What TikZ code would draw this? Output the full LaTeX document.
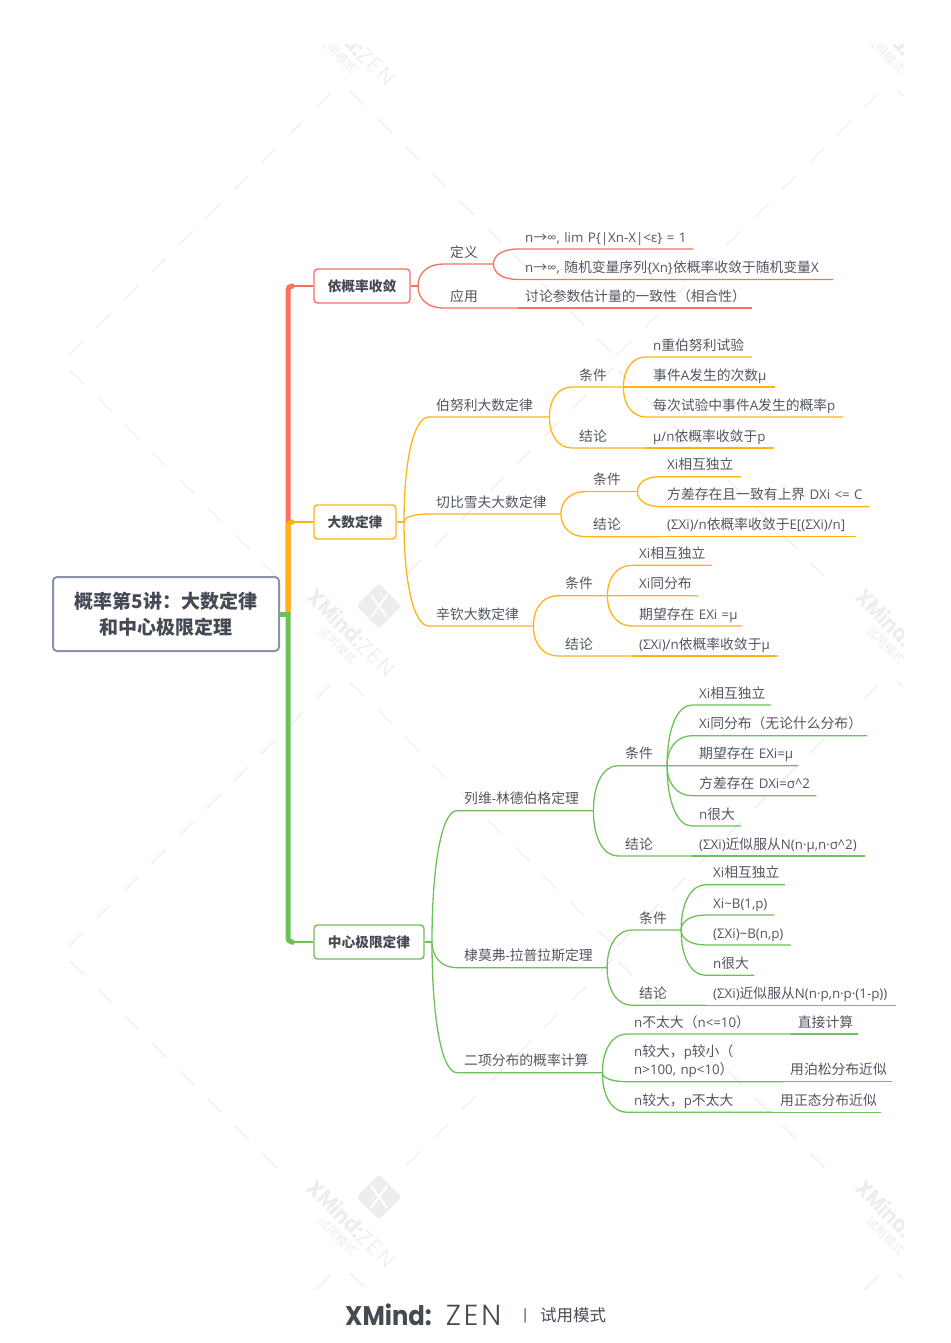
\documentclass[tikz,border=0pt]{standalone}
\usepackage{fontspec}
\usetikzlibrary{calc}
\setmainfont[Scale=.965]{Open Sans}
\newfontfamily\zh{Noto Sans CJK SC}
\newfontfamily\pop[FakeStretch=.9]{Poppins}
\newfontfamily\popthin[LetterSpace=10]{Poppins Light}
\definecolor{cred}{HTML}{F97060}
\definecolor{corange}{HTML}{FFB414}
\definecolor{cgreen}{HTML}{6EC15A}
\definecolor{cgray}{HTML}{8A93A8}
\definecolor{ctext}{HTML}{50555F}
\definecolor{cdark}{HTML}{454A55}
\definecolor{cwm}{HTML}{ECEDEF}
\tikzset{
	topic/.style={anchor=south west,inner xsep=7pt,inner ysep=0pt,text height=10pt,text depth=6.6pt,align=left,text=ctext,font=\fontsize{13.8}{18}\selectfont},
	bigbox/.style={draw,fill=white,line width=1.4pt,rounded corners=3.5pt,minimum height=34pt,text=cdark,font=\fontsize{13.7}{18}\zh\bfseries},
	rootbox/.style={draw=cgray,fill=white,line width=2pt,rounded corners=4pt,minimum width=226pt,minimum height=74pt,align=center,text=cdark,font=\fontsize{19}{26}\zh\bfseries},
	conn/.style={line width=1.3pt},
	main/.style={line width=5pt,rounded corners=4pt},
	stub/.style={line width=2.4pt},
	branch/.style={to path={.. controls ($(\tikztostart)!.6!(\tikztostart|-\tikztotarget)$) and ($(\tikztotarget)!.6!(\tikztostart|-\tikztotarget)$) .. (\tikztotarget)}},
	wmdash/.style={draw=cwm,line width=1.2pt},
}
\begin{document}
\begin{tikzpicture}[x=1pt,y=-1pt]
	\useasboundingbox (0,0) rectangle (950,1343);
	\begin{scope}
		\clip (69,45) rectangle (903,1290);
		\foreach \tx in {0,548} \foreach \ty in {-591,0,591,1182} {
			\begin{scope}[shift={(\tx,\ty)}]
				\foreach \i in {0,...,9} {
					\draw[wmdash] (69+27.5*\i,355-27.5*\i) -- ++(14,-14);
					\draw[wmdash] (350+27.5*\i,91+27.5*\i) -- ++(14,14);
				}
				\foreach \i in {0,...,7} {
					\draw[wmdash] (70+27.5*\i,370+27.5*\i) -- ++(14,14);
					\draw[wmdash] (407+27.5*\i,574-27.5*\i) -- ++(14,-14);
				}
			\end{scope}
		}
		\foreach \tx in {0,548} \foreach \ty in {-591,0,591} {
			\begin{scope}[shift={(\tx,\ty)}]
				\node[fill=cwm,rotate=45,minimum size=32pt,rounded corners=3pt] (wmicon) at (379,606) {};
				\draw[white,line width=2pt] (371,595) -- (387,617);
				\draw[white,line width=2pt] (387,595) -- (371,617);
				\node[rotate=-45,text=cwm,font=\fontsize{22}{22}\pop\bfseries] (wmname) at (352,632) {XMind:{\popthin\mdseries ZEN}};
				\node[rotate=-45,text=cwm,font=\fontsize{12}{12}\zh] (wmtrial) at (338,645) {试用模式};
			\end{scope}
		}
	\end{scope}

	\node[rootbox] (root) at (166,614) {概率第5讲：大数定律\\和中心极限定理};
	\coordinate (trunk) at (288,614);
	\node[bigbox,draw=cred,minimum width=96pt] (prob) at (362,286) {依概率收敛};
	\node[bigbox,draw=corange,minimum width=82pt] (law) at (355,522) {大数定律};
	\node[bigbox,draw=cgreen,minimum width=110pt] (clt) at (369,942) {中心极限定律};
	\coordinate (probj) at (418,286);
	\coordinate (lawj) at (404,522);
	\coordinate (cltj) at (432,942);

	\node[topic,text width=36pt] (def) at (443,264) {\zh 定义};
	\node[topic,text width=61pt] (app) at (443,308) {\zh 应用};
	\node[topic,text width=161pt] (def1) at (518,249) {\mbox{n{\zh →}∞, lim P\{|Xn-X|<ε\} = 1}};
	\node[topic,text width=301pt] (def2) at (518,279.5) {\mbox{n{\zh →}∞, {\zh 随机变量序列}\{Xn\}{\zh 依概率收敛于随机变量}X}};
	\node[topic,text width=220pt] (app1) at (518,308) {\zh 讨论参数估计量的一致性（相合性）};

	\node[topic,text width=106pt] (bern) at (429,417) {\zh 伯努利大数定律};
	\node[topic,text width=37pt] (berncond) at (572,387) {\zh 条件};
	\node[topic,text width=60pt] (bernconc) at (572,448) {\zh 结论};
	\node[topic,text width=91.5pt] (bern1) at (646,357) {n{\zh 重伯努利试验}};
	\node[topic,text width=114.6pt] (bern2) at (646,387) {{\zh 事件}A{\zh 发生的次数}μ};
	\node[topic,text width=183pt] (bern3) at (646,417) {{\zh 每次试验中事件}A{\zh 发生的概率}p};
	\node[topic,text width=114pt] (bern4) at (646,448) {μ/n{\zh 依概率收敛于}p};

	\node[topic,text width=117.5pt] (cheb) at (429,514) {\zh 切比雪夫大数定律};
	\node[topic,text width=37pt] (chebcond) at (586,491.5) {\zh 条件};
	\node[topic,text width=60pt] (chebconc) at (586,536.7) {\zh 结论};
	\node[topic,text width=67pt] (cheb1) at (660,476.7) {Xi{\zh 相互独立}};
	\node[topic,text width=195pt] (cheb2) at (660,506.6) {\mbox{{\zh 方差存在且一致有上界} DXi <= C}};
	\node[topic,text width=182pt] (cheb3) at (660,536.7) {(ΣXi)/n{\zh 依概率收敛于}E[(ΣXi)/n]};

	\node[topic,text width=90pt] (khin) at (429,626) {\zh 辛钦大数定律};
	\node[topic,text width=35pt] (khincond) at (558,595.7) {\zh 条件};
	\node[topic,text width=60pt] (khinconc) at (558,656) {\zh 结论};
	\node[topic,text width=65.7pt] (khin1) at (632,565.3) {Xi{\zh 相互独立}};
	\node[topic,text width=51.7pt] (khin2) at (632,595.7) {Xi{\zh 同分布}};
	\node[topic,text width=96pt] (khin3) at (632,626) {\mbox{{\zh 期望存在} EXi =μ}};
	\node[topic,text width=130.7pt] (khin4) at (632,656) {(ΣXi)/n{\zh 依概率收敛于}μ};

	\node[topic,text width=122pt] (lev) at (457,810.7) {{\zh 列维}-{\zh 林德伯格定理}};
	\node[topic,text width=34.7pt] (levcond) at (618,765.7) {\zh 条件};
	\node[topic,text width=60pt] (levconc) at (618,856) {\zh 结论};
	\node[topic,text width=64.7pt] (lev1) at (692,705) {Xi{\zh 相互独立}};
	\node[topic,text width=160.7pt] (lev2) at (692,735.7) {Xi{\zh 同分布（无论什么分布）}};
	\node[topic,text width=92pt] (lev3) at (692,765.7) {\mbox{{\zh 期望存在} EXi=μ}};
	\node[topic,text width=110pt] (lev4) at (692,795.7) {\mbox{{\zh 方差存在} DXi=σ\^{}2}};
	\node[topic,text width=34.7pt] (lev5) at (692,826) {n{\zh 很大}};
	\node[topic,text width=159pt] (lev6) at (692,856) {(ΣXi){\zh 近似服从}N(n·μ,n·σ\^{}2)};

	\node[topic,text width=135.7pt] (dem) at (457,967.7) {{\zh 棣莫弗}-{\zh 拉普拉斯定理}};
	\node[topic,text width=34.7pt] (demcond) at (632,930) {\zh 条件};
	\node[topic,text width=60pt] (demconc) at (632,1005.3) {\zh 结论};
	\node[topic,text width=64.7pt] (dem1) at (706,884.7) {Xi{\zh 相互独立}};
	\node[topic,text width=54pt] (dem2) at (706,915) {Xi\textasciitilde B(1,p)};
	\node[topic,text width=70.7pt] (dem3) at (706,945) {(ΣXi)\textasciitilde B(n,p)};
	\node[topic,text width=34pt] (dem4) at (706,975.3) {n{\zh 很大}};
	\node[topic,text width=176pt] (dem5) at (706,1005.3) {\mbox{(ΣXi){\zh 近似服从}N(n·p,n·p·(1-p))}};

	\node[topic,text width=131pt] (bin) at (457,1072.7) {\zh 二项分布的概率计算};
	\node[topic,text width=149.7pt] (bin1) at (627,1034) {n{\zh 不太大（}n<=10{\zh ）}};
	\node[topic,text width=53pt] (bin1r) at (790.7,1034) {\zh 直接计算};
	\node[topic,text width=142pt,text depth=24.6pt] (bin2) at (627,1081.7) {n{\zh 较大，}p{\zh 较小（}\\n>100, np<10{\zh ）}};
	\node[topic,text width=94.7pt] (bin2r) at (783,1081.7) {\zh 用泊松分布近似};
	\node[topic,text width=132pt] (bin3) at (627,1112.3) {n{\zh 较大，}p{\zh 不太大}};
	\node[topic,text width=94pt] (bin3r) at (773,1112.3) {\zh 用正态分布近似};

	\draw[main,cred] (trunk) -- (trunk|-prob.west) -- ++(6,0);
	\draw[stub,cred] (trunk|-prob.west) -- (prob.west);
	\draw[main,corange] (trunk) -- (trunk|-law.west) -- ++(6,0);
	\draw[stub,corange] (trunk|-law.west) -- (law.west);
	\draw[main,cgreen] (trunk|-root.east) ++(0,-2) -- (trunk|-clt.west) -- ++(6,0);
	\draw[stub,cgreen] (trunk|-clt.west) -- (clt.west);
	\draw[line width=5pt,cgreen] (root.east) -- (trunk);

	\draw[conn,cred] (prob.east) -- (probj);
	\draw[conn,corange] (law.east) -- (lawj);
	\draw[conn,cgreen] (clt.east) -- (cltj);
	\foreach \b in {def,app} \draw[conn,cred] (probj) to[branch] (\b.south west) -- (\b.south east);
	\foreach \b in {bern,cheb,khin} \draw[conn,corange] (lawj) to[branch] (\b.south west) -- (\b.south east);
	\foreach \b in {lev,dem,bin} \draw[conn,cgreen] (cltj) to[branch] (\b.south west) -- (\b.south east);
	\foreach \a/\b in {def/def1,def/def2,app/app1}
		\draw[conn,cred] (\a.south east) to[branch] (\b.south west) -- (\b.south east);
	\foreach \a/\b in {bern/berncond,bern/bernconc,berncond/bern1,berncond/bern2,berncond/bern3,bernconc/bern4,cheb/chebcond,cheb/chebconc,chebcond/cheb1,chebcond/cheb2,chebconc/cheb3,khin/khincond,khin/khinconc,khincond/khin1,khincond/khin2,khincond/khin3,khinconc/khin4}
		\draw[conn,corange] (\a.south east) to[branch] (\b.south west) -- (\b.south east);
	\foreach \a/\b in {lev/levcond,lev/levconc,levcond/lev1,levcond/lev2,levcond/lev3,levcond/lev4,levcond/lev5,levconc/lev6,dem/demcond,dem/demconc,demcond/dem1,demcond/dem2,demcond/dem3,demcond/dem4,demconc/dem5,bin/bin1,bin/bin2,bin/bin3,bin1/bin1r,bin2/bin2r,bin3/bin3r}
		\draw[conn,cgreen] (\a.south east) to[branch] (\b.south west) -- (\b.south east);

	\node[anchor=base west,inner sep=0pt,text=cdark,font=\fontsize{27}{27}\pop\bfseries] (brand) at (345,1325) {XMind:\hspace{14pt}{\fontsize{29}{29}\popthin\mdseries ZEN}};
	\node[anchor=base west,inner sep=0pt,text=cdark,font=\fontsize{16}{16}\popthin] (brandbar) at (523,1321) {|};
	\node[anchor=base west,inner sep=0pt,text=cdark,font=\fontsize{16.5}{16.5}\zh] (brandmode) at (540,1321) {试用模式};
\end{tikzpicture}
\end{document}
